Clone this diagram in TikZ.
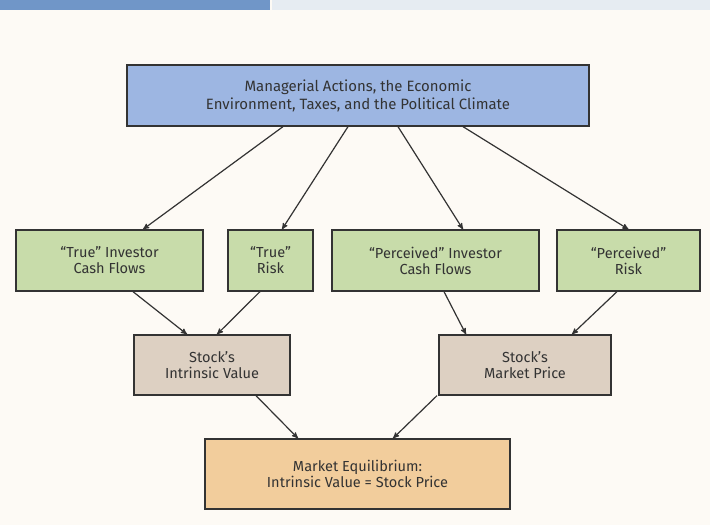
\documentclass[tikz,border=0pt]{standalone}
\usepackage{fontspec}
\setmainfont{Fira Sans}
\usepackage{tikz}
\usetikzlibrary{arrows}
\usetikzlibrary{calc}

\definecolor{paper}{HTML}{FDFAF5}
\definecolor{headblue}{HTML}{7096C8}
\definecolor{headgray}{HTML}{E6ECF2}
\definecolor{envblue}{HTML}{9DB6E2}
\definecolor{flowgreen}{HTML}{C8DCAA}
\definecolor{valuetan}{HTML}{DDD0C2}
\definecolor{equilorange}{HTML}{F2CD9C}
\definecolor{edgegray}{HTML}{333333}

\begin{document}
\begin{tikzpicture}[x=1bp,y=-1bp,
  box/.style={draw=edgegray,line width=1.3bp,align=center,inner sep=0pt,
    text=edgegray,font=\fontsize{14.6}{16}\selectfont},
  envbox/.style={box,fill=envblue,minimum width=462bp,minimum height=61bp,
    font=\fontsize{15}{18}\selectfont},
  flowbox/.style={box,fill=flowgreen,minimum height=61bp},
  valuebox/.style={box,fill=valuetan,minimum height=60bp},
  equilbox/.style={box,fill=equilorange,minimum width=305bp,minimum height=70bp},
  >=stealth', every edge/.style={draw=edgegray,line width=1.2bp}]
\useasboundingbox[fill=paper] (0,0) rectangle (710,525);
\fill[headblue] (0,0) rectangle (270,10);
\fill[headgray] (272,0) rectangle (710,10);

\node[envbox] (env) at (358,95.5) {Managerial Actions, the Economic\\Environment, Taxes, and the Political Climate};

\node[flowbox,minimum width=187bp] (truecf) at (109.5,260.5) {“True” Investor\\Cash Flows};
\node[flowbox,minimum width=85bp] (truerisk) at (270.5,260.5) {“True”\\Risk};
\node[flowbox,minimum width=207bp] (percf) at (435.5,260.5) {“Perceived” Investor\\Cash Flows};
\node[flowbox,minimum width=143bp] (perrisk) at (628.5,260.5) {“Perceived”\\Risk};

\node[valuebox,minimum width=156bp] (intrinsic) at (212,365) {Stock’s\\Intrinsic Value};
\node[valuebox,minimum width=172bp] (market) at (525,365) {Stock’s\\Market Price};

\node[equilbox] (equil) at (357.5,474) {Market Equilibrium:\\Intrinsic Value = Stock Price};

\path[->] ($(env.south)+(-75,0)$) edge ($(truecf.north)+(33.5,0)$);
\path[->] ($(env.south)+(-10,0)$) edge ($(truerisk.north)+(11.5,0)$);
\path[->] ($(env.south)+(40,0)$) edge ($(percf.north)+(27.5,0)$);
\path[->] ($(env.south)+(105,0)$) edge ($(perrisk.north)+(0,0)$);

\path[->] ($(truecf.south)+(23.5,0)$) edge ($(intrinsic.north)+(-25,0)$);
\path[->] ($(truerisk.south)+(-10.5,0)$) edge ($(intrinsic.north)+(5,0)$);
\path[->] ($(percf.south)+(8.5,0)$) edge ($(market.north)+(-59,0)$);
\path[->] ($(perrisk.south)+(-11.5,0)$) edge ($(market.north)+(47,0)$);

\path[->] ($(intrinsic.south)+(44,0)$) edge ($(equil.north)+(-59.5,0)$);
\path[->] ($(market.south)+(-88,0)$) edge ($(equil.north)+(35.5,0)$);
\end{tikzpicture}
\end{document}
